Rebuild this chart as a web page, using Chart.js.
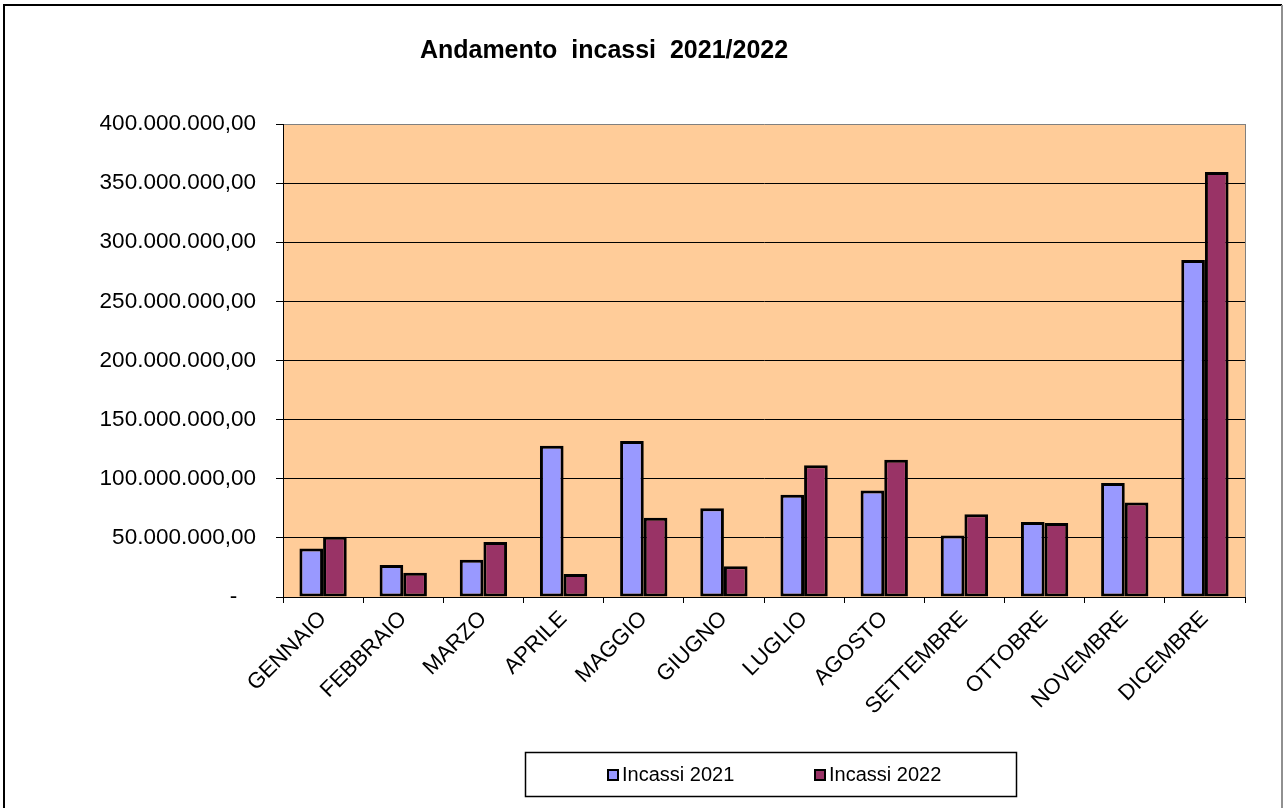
<!DOCTYPE html>
<html lang="it">
<head>
<meta charset="utf-8">
<title>Andamento incassi 2021/2022</title>
<script src="https://cdn.jsdelivr.net/npm/chart.js@4/dist/chart.umd.min.js"></script>
<style>
    html, body { margin: 0; padding: 0; background: #ffffff; }
    canvas { display: block; }
</style>
</head>
<body>
<canvas id="graficoIncassi" width="1284" height="808"></canvas>
<script>
const mesi = ['GENNAIO', 'FEBBRAIO', 'MARZO', 'APRILE', 'MAGGIO', 'GIUGNO',
    'LUGLIO', 'AGOSTO', 'SETTEMBRE', 'OTTOBRE', 'NOVEMBRE', 'DICEMBRE'];

const incassi2021 = [41000000, 27000000, 31500000, 128000000, 132000000, 75000000,
    86500000, 90000000, 52000000, 63500000, 96500000, 285000000];

const incassi2022 = [51000000, 20500000, 46500000, 19500000, 67000000, 26000000,
    111500000, 116000000, 70000000, 62500000, 80000000, 359500000];

const valoriAsse = [0, 50000000, 100000000, 150000000, 200000000,
    250000000, 300000000, 350000000, 400000000];

const FONT = '"Liberation Sans", Arial, sans-serif';

function formattaImporto(v) {
    if (v === 0) return '-   ';
    return String(v).replace(/\B(?=(\d{3})+(?!\d))/g, '.') + ',00';
}

// sfondo dell'area, cornice, titolo e legenda incorniciata
const decorazioni = {
    id: 'decorazioni',
    beforeDraw(chart) {
        const ctx = chart.ctx;
        const a = chart.chartArea;
        ctx.save();
        ctx.fillStyle = '#ffffff';
        ctx.fillRect(0, 0, chart.width, chart.height);
        ctx.fillStyle = '#FFCC99';
        ctx.fillRect(a.left, a.top, a.right - a.left, a.bottom - a.top);
        ctx.restore();
    },
    afterDraw(chart) {
        const ctx = chart.ctx;
        const a = chart.chartArea;
        ctx.save();

        // bordo destro dell'area del grafico
        ctx.strokeStyle = '#808080';
        ctx.lineWidth = 1;
        ctx.beginPath();
        ctx.moveTo(Math.round(a.right) + 0.5, a.top);
        ctx.lineTo(Math.round(a.right) + 0.5, a.bottom);
        ctx.stroke();

        // cornice esterna
        ctx.strokeStyle = '#000000';
        ctx.lineWidth = 2;
        ctx.beginPath();
        ctx.moveTo(4, chart.height);
        ctx.lineTo(4, 5);
        ctx.lineTo(1282, 5);
        ctx.stroke();
        ctx.strokeStyle = '#909090';
        ctx.beginPath();
        ctx.moveTo(1282, 5);
        ctx.lineTo(1282, chart.height);
        ctx.stroke();

        // titolo
        ctx.fillStyle = '#000000';
        ctx.font = 'bold 25px ' + FONT;
        ctx.textAlign = 'center';
        ctx.textBaseline = 'middle';
        ctx.fillText('Andamento  incassi  2021/2022', 604, 51);

        // legenda
        ctx.strokeStyle = '#000000';
        ctx.lineWidth = 1.5;
        ctx.strokeRect(525.5, 752.5, 491, 44);
        const posizioni = [608, 815];
        ctx.font = '20px ' + FONT;
        ctx.textAlign = 'left';
        chart.data.datasets.forEach((ds, i) => {
            const x = posizioni[i];
            ctx.fillStyle = ds.backgroundColor;
            ctx.fillRect(x, 770, 10, 10);
            ctx.lineWidth = 2;
            ctx.strokeRect(x, 770, 10, 10);
            ctx.fillStyle = '#000000';
            ctx.fillText(ds.label, x + 14, 775);
        });
        ctx.restore();
    }
};

const ctx = document.getElementById('graficoIncassi').getContext('2d');
new Chart(ctx, {
    type: 'bar',
    data: {
        labels: mesi,
        datasets: [{
            label: 'Incassi 2021',
            data: incassi2021,
            backgroundColor: '#9999FF',
            borderColor: '#000000',
            borderWidth: 3,
            borderSkipped: false,
            categoryPercentage: 0.59,
            barPercentage: 1.0
        }, {
            label: 'Incassi 2022',
            data: incassi2022,
            backgroundColor: '#993366',
            borderColor: '#000000',
            borderWidth: 3,
            borderSkipped: false,
            categoryPercentage: 0.59,
            barPercentage: 1.0
        }]
    },
    options: {
        responsive: false,
        animation: false,
        devicePixelRatio: 1,
        layout: {
            padding: { left: 0, top: 124, right: 39, bottom: 0 }
        },
        plugins: {
            legend: { display: false },
            title: { display: false },
            tooltip: { enabled: false }
        },
        scales: {
            x: {
                afterFit(scale) { scale.height = 211; },
                grid: {
                    offset: true,
                    drawOnChartArea: false,
                    color: '#000000',
                    tickLength: 6
                },
                border: { display: true, color: '#000000', width: 1 },
                ticks: {
                    autoSkip: false,
                    maxRotation: 45,
                    minRotation: 45,
                    padding: 3,
                    color: '#000000',
                    font: { family: FONT, size: 22 }
                }
            },
            y: {
                min: 0,
                max: 400000000,
                afterFit(scale) { scale.width = 283; },
                afterBuildTicks(scale) {
                    scale.ticks = valoriAsse.map(v => ({ value: v }));
                },
                grid: {
                    color: c => (c.tick && c.tick.value === 400000000) ? '#808080' : '#000000',
                    tickColor: '#000000',
                    tickLength: 7,
                    lineWidth: 1
                },
                border: { display: true, color: '#000000', width: 1 },
                ticks: {
                    padding: 20,
                    color: '#000000',
                    font: { family: FONT, size: 22.5 },
                    callback: v => formattaImporto(v)
                }
            }
        }
    },
    plugins: [decorazioni]
});
</script>
</body>
</html>
